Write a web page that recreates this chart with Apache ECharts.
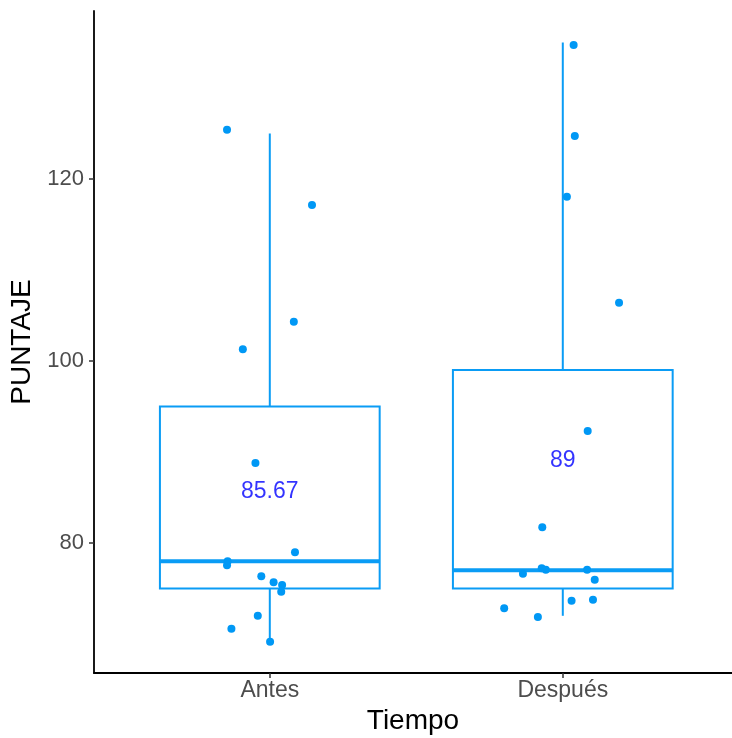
<!DOCTYPE html>
<html>
<head>
<meta charset="utf-8">
<script src="https://cdn.jsdelivr.net/npm/echarts@6/dist/echarts.min.js"></script>
<style>html,body{margin:0;padding:0;background:#fff;}#c{width:732px;height:738px;}</style>
</head>
<body>
<div id="c"></div>
<script>
// ---- data ----
var categories = ['Antes', 'Después'];
// box statistics: [lower whisker, Q1, median, Q3, upper whisker]
var boxAntes = [69.2, 75, 78, 95, 125];
var boxDespues = [72, 75, 77, 99, 135];
// jittered points (x in category units, y = PUNTAJE)
var antesX = [0.854, 1.144, 1.082, 0.908, 0.951, 1.086, 0.856, 0.854, 0.971, 1.013, 1.042, 1.039, 0.959, 0.869, 1.001];
var antesY = [125.4, 117.14, 104.3, 101.3, 88.8, 78.98, 78.0, 77.55, 76.34, 75.68, 75.38, 74.65, 72.0, 70.58, 69.15];
var despuesX = [2.037, 2.041, 2.014, 2.192, 2.085, 1.930, 1.928, 1.942, 1.864, 2.083, 2.109, 2.030, 2.103, 1.800, 1.915];
var despuesY = [134.73, 124.73, 118.05, 106.4, 92.31, 81.72, 77.22, 77.07, 76.63, 77.07, 75.97, 73.66, 73.77, 72.82, 71.87];
var meanValues = [85.67, 89];
var meanLabels = ['85.67', '89'];
var yTicks = [80, 100, 120];

// ---- build ----
var boxColor = '#0a9cf5';
var pointColor = '#0098f5';
var boxes = [[1].concat(boxAntes), [2].concat(boxDespues)];
var points = [];
antesX.forEach(function (x, i) { points.push([x, antesY[i]]); });
despuesX.forEach(function (x, i) { points.push([x, despuesY[i]]); });
var means = meanValues.map(function (m, i) { return [i + 1, m, meanLabels[i]]; });

var chart = echarts.init(document.getElementById('c'), null, {renderer: 'canvas'});
var font = '"Liberation Sans", Arial, Helvetica, sans-serif';
chart.setOption({
  animation: false,
  backgroundColor: '#ffffff',
  grid: {left: 94, right: 0, top: 11, bottom: 65, containLabel: false, outerBoundsMode: 'none'},
  xAxis: {
    type: 'value', min: 0.4, max: 2.5775,
    name: 'Tiempo', nameLocation: 'middle', nameGap: 33,
    nameTextStyle: {fontFamily: font, fontSize: 28, color: '#000'},
    axisLine: {show: true, onZero: false, lineStyle: {color: '#000', width: 1.8}},
    axisTick: {show: true, length: 5, lineStyle: {color: '#333', width: 1.5}, customValues: [1, 2]},
    axisLabel: {
      fontFamily: font, fontSize: 23, color: '#4d4d4d', margin: 6,
      customValues: [1, 2],
      formatter: function (v) { return categories[Math.round(v) - 1] || ''; }
    },
    splitLine: {show: false}
  },
  yAxis: {
    type: 'value', min: 65.714, max: 138.46,
    name: 'PUNTAJE', nameLocation: 'middle', nameGap: 50, nameRotate: 90,
    nameTextStyle: {fontFamily: font, fontSize: 28, color: '#000'},
    axisLine: {show: true, onZero: false, lineStyle: {color: '#000', width: 1.8}},
    axisTick: {show: true, length: 5, lineStyle: {color: '#333', width: 1.5}, customValues: yTicks},
    axisLabel: {fontFamily: font, fontSize: 22, color: '#4d4d4d', margin: 10, customValues: yTicks},
    splitLine: {show: false}
  },
  series: [
    {
      type: 'custom',
      data: boxes,
      encode: {x: 0, y: [1, 2, 3, 4, 5]},
      renderItem: function (params, api) {
        var x = api.value(0);
        var half = api.size([0.375, 0])[0];
        var pMin = api.coord([x, api.value(1)]);
        var pQ1 = api.coord([x, api.value(2)]);
        var pMed = api.coord([x, api.value(3)]);
        var pQ3 = api.coord([x, api.value(4)]);
        var pMax = api.coord([x, api.value(5)]);
        var st = {stroke: boxColor, lineWidth: 2, fill: null};
        return {
          type: 'group',
          children: [
            {type: 'line', shape: {x1: pQ3[0], y1: pQ3[1], x2: pMax[0], y2: pMax[1]}, style: st},
            {type: 'line', shape: {x1: pQ1[0], y1: pQ1[1], x2: pMin[0], y2: pMin[1]}, style: st},
            {type: 'rect', shape: {x: pQ3[0] - half, y: pQ3[1], width: 2 * half, height: pQ1[1] - pQ3[1]},
              style: {stroke: boxColor, lineWidth: 2, fill: 'rgba(255,255,255,0)'}},
            {type: 'line', shape: {x1: pMed[0] - half, y1: pMed[1], x2: pMed[0] + half, y2: pMed[1]},
              style: {stroke: boxColor, lineWidth: 4}}
          ]
        };
      },
      z: 2
    },
    {
      type: 'scatter',
      data: points,
      symbol: 'circle',
      symbolSize: 8,
      itemStyle: {color: pointColor, opacity: 1},
      z: 3
    },
    {
      type: 'scatter',
      data: means,
      symbolSize: 0,
      label: {
        show: true, position: 'inside',
        formatter: function (p) { return p.value[2]; },
        fontFamily: font, fontSize: 23, color: '#0000ff'
      },
      z: 4
    }
  ]
});
</script>
</body>
</html>
